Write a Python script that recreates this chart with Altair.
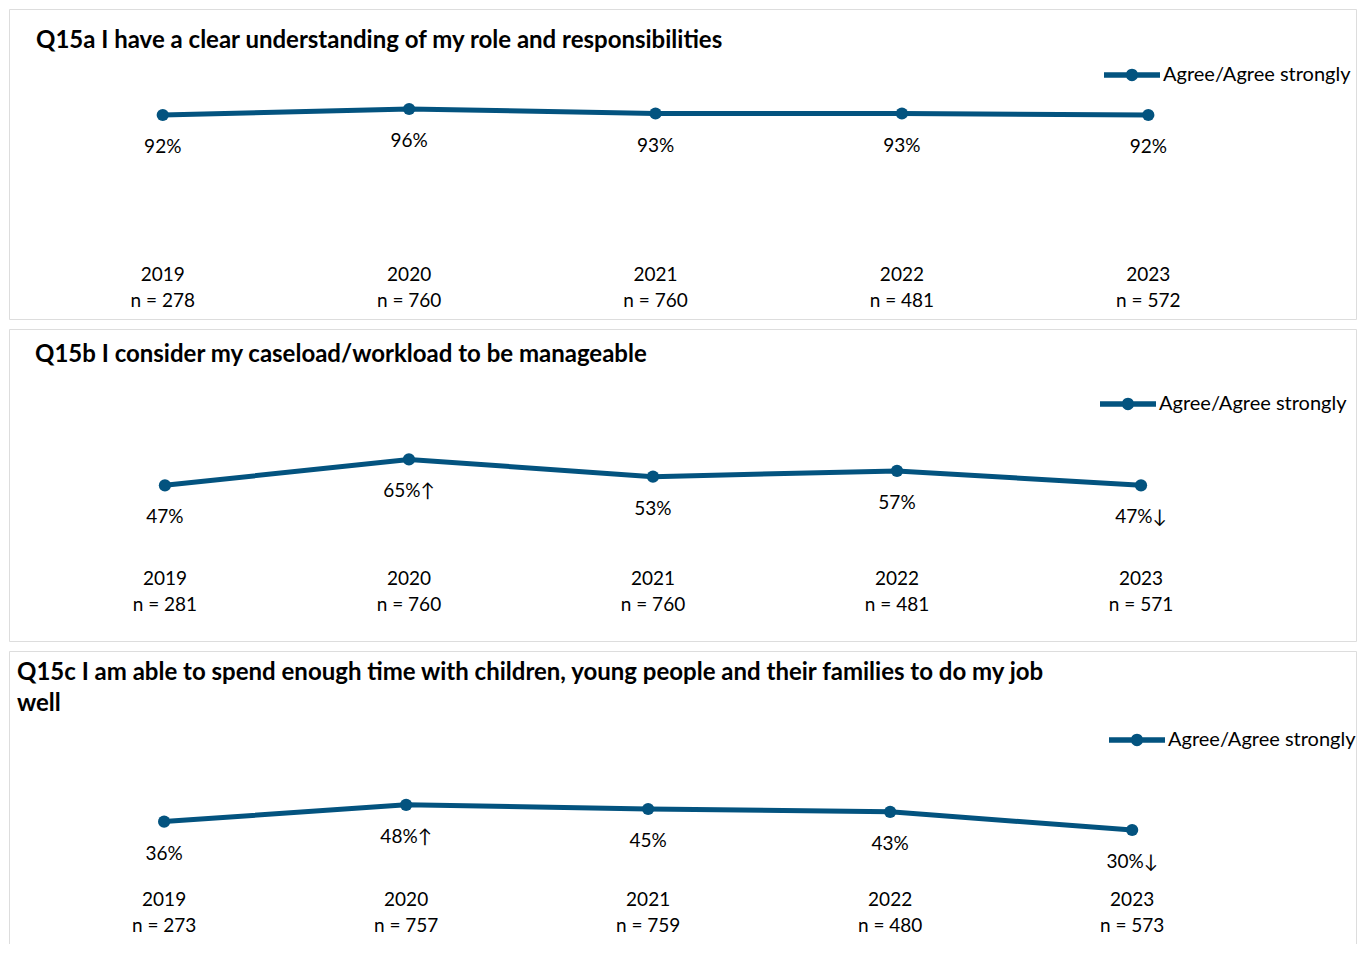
import altair as alt
import pandas as pd

years = [2019, 2020, 2021, 2022, 2023]
series_name = "Agree/Agree strongly"

q15a_title = ["Q15a I have a clear understanding of my role and responsibilities"]
q15a_vals = [92, 96, 93, 93, 92]
q15a_labels = ["92%", "96%", "93%", "93%", "92%"]
q15a_n = [278, 760, 760, 481, 572]

q15b_title = ["Q15b I consider my caseload/workload to be manageable"]
q15b_vals = [47, 65, 53, 57, 47]
q15b_labels = ["47%", "65%\u2191", "53%", "57%", "47%\u2193"]
q15b_n = [281, 760, 760, 481, 571]

q15c_title = ["Q15c I am able to spend enough time with children, young people and their families to do my job",
              "well"]
q15c_vals = [36, 48, 45, 43, 30]
q15c_labels = ["36%", "48%\u2191", "45%", "43%", "30%\u2193"]
q15c_n = [273, 757, 759, 480, 573]

COLOR = "#03537f"
FONT = "Lato"
W = 1347

legend_path = ("M-1,-0.1L1,-0.1L1,0.1L-1,0.1Z "
               "M0.22,0A0.22,0.22 0 1 1 -0.22,0A0.22,0.22 0 1 1 0.22,0Z")


def panel(title_lines, vals, labels, ns, xdom, yrange, height,
          title_x, title_y, legend_x, legend_y, year_y, n_y):
    df = pd.DataFrame({
        "year": years,
        "value": vals,
        "label": labels,
        "yr": [str(y) for y in years],
        "n": [f"n = {v}" for v in ns],
        "series": [series_name] * len(years),
    })
    xs = alt.X("year:Q", scale=alt.Scale(domain=xdom, nice=False, zero=False), axis=None)
    ys = alt.Y("value:Q", scale=alt.Scale(domain=[0, 100], range=yrange), axis=None)
    base = alt.Chart(df)
    line = base.mark_line(color=COLOR, strokeWidth=5).encode(x=xs, y=ys)
    pts = base.mark_circle(size=150, opacity=1).encode(
        x=xs, y=ys,
        color=alt.Color("series:N",
                        scale=alt.Scale(domain=[series_name], range=[COLOR]),
                        legend=alt.Legend(orient="none", legendX=legend_x, legendY=legend_y,
                                          title=None, symbolType=legend_path,
                                          symbolSize=3136, symbolStrokeWidth=0,
                                          labelFont=FONT, labelFontSize=20, labelLimit=0,
                                          labelColor="#000000", labelOffset=3,
                                          padding=0, offset=0)))
    vlab = base.mark_text(font=FONT, fontSize=19, dy=32, baseline="middle",
                          align="center", color="#000000").encode(x=xs, y=ys, text="label:N")
    yl = base.mark_text(font=FONT, fontSize=19, baseline="middle", align="center",
                        color="#000000").encode(x=xs, y=alt.value(year_y), text="yr:N")
    nl = base.mark_text(font=FONT, fontSize=19, baseline="middle", align="center",
                        color="#000000").encode(x=xs, y=alt.value(n_y), text="n:N")
    layers = [line, pts, vlab, yl, nl]
    for i, t in enumerate(title_lines):
        tdf = pd.DataFrame({"t": [t]})
        layers.append(alt.Chart(tdf).mark_text(font=FONT, fontSize=24, fontWeight="bold",
                                               align="left", baseline="middle",
                                               color="#000000").encode(
            x=alt.value(title_x), y=alt.value(title_y + i * 31), text="t:N"))
    return alt.layer(*layers).properties(width=W, height=height)


p1 = panel(q15a_title, q15a_vals, q15a_labels, q15a_n,
           [2018.376, 2023.843], [244, 94], 310,
           27, 32, 1095, 38, 266, 292)
p2 = panel(q15b_title, q15b_vals, q15b_labels, q15b_n,
           [2018.361, 2023.881], [224, 80], 312,
           26, 26, 1091, 47, 250, 276)
p3 = panel(q15c_title, q15c_vals, q15c_labels, q15c_n,
           [2018.359, 2023.925], [221, 81], 322,
           8, 22, 1100, 61, 249, 275)

chart = alt.vconcat(p1, p2, p3, spacing=8).resolve_scale(
    x="independent", y="independent", color="independent"
).resolve_legend(color="independent").properties(
    padding={"top": 0, "left": 0, "right": 0, "bottom": -30}
).configure_view(
    stroke="#d9d9d9", strokeWidth=2
).configure(background="white")

chart.save("out.html", embed_options={"renderer": "svg", "actions": False})
